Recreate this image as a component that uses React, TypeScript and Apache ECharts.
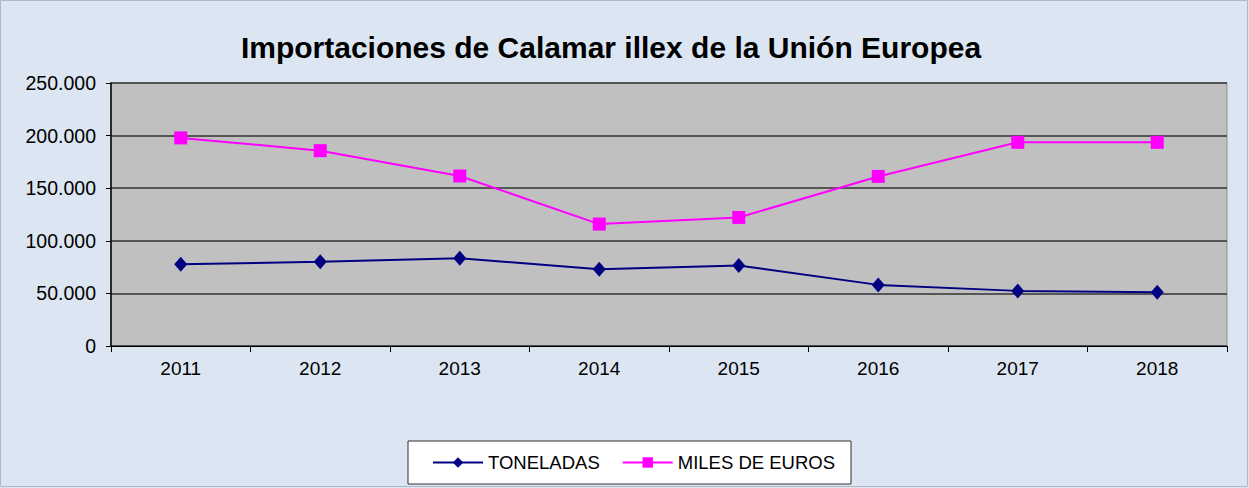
import React, { useEffect, useRef } from "react";
import * as echarts from "echarts";

const years = ["2011", "2012", "2013", "2014", "2015", "2016", "2017", "2018"];
const toneladas = [77800, 80000, 83500, 73000, 76500, 58100, 52400, 51100];
const milesEuros = [197800, 185700, 161600, 115900, 122200, 161200, 193600, 193600];
const titleText = "Importaciones de Calamar illex de la Unión Europea";

const fmt = (v: number) => (v === 0 ? "0" : v.toLocaleString("de-DE"));

export default function App() {
  const ref = useRef<HTMLDivElement>(null);
  useEffect(() => {
    if (!ref.current) return;
    const chart = echarts.init(ref.current, undefined, { renderer: "svg" });
    chart.setOption({
      animation: false,
      backgroundColor: "#dce6f2",
      textStyle: { fontFamily: "Liberation Sans, Arial, sans-serif" },
      graphic: [
        {
          type: "rect",
          shape: { x: 0.5, y: 0.5, width: 1247, height: 486 },
          style: { fill: "none", stroke: "#b0b8c4", lineWidth: 1 },
          silent: true,
        },
      ],
      title: {
        text: titleText,
        left: 606,
        textAlign: "center",
        top: 27,
        textStyle: { fontSize: 30, fontWeight: "bold", color: "#000", fontFamily: "Liberation Sans, Arial, sans-serif" },
      },
      legend: {
        left: 408,
        top: 441,
        orient: "horizontal",
        backgroundColor: "#ffffff",
        borderColor: "#303030",
        borderWidth: 1,
        padding: [12, 16, 12, 24],
        itemGap: 22,
        itemWidth: 50,
        itemHeight: 13,
        textStyle: { fontSize: 18.5, color: "#000", padding: [0, 0, 0, 0] },
        data: ["TONELADAS", "MILES DE EUROS"],
      },
      grid: { left: 111, right: 22, top: 83, height: 263, containLabel: false, show: true, backgroundColor: "#c0c0c0", borderColor: "#909090", borderWidth: 1 },
      xAxis: {
        type: "category",
        data: years,
        boundaryGap: true,
        axisLine: { show: true, lineStyle: { color: "#000", width: 1 } },
        axisTick: { show: true, length: 6, inside: false, lineStyle: { color: "#000" } },
        axisLabel: { fontSize: 19, color: "#000", margin: 13 },
        splitLine: { show: false },
      },
      yAxis: {
        type: "value",
        min: 0,
        max: 250000,
        interval: 50000,
        axisLine: { show: true, lineStyle: { color: "#000", width: 1.5 } },
        axisTick: { show: true, length: 5, lineStyle: { color: "#000" } },
        axisLabel: { fontSize: 19.5, color: "#000", margin: 15, formatter: (v: number) => fmt(v) },
        splitLine: { show: true, lineStyle: { color: "#333333", width: 1.5 } },
      },
      series: [
        {
          name: "TONELADAS",
          type: "line",
          data: toneladas,
          symbol: "diamond",
          symbolSize: [13, 15],
          lineStyle: { color: "#000080", width: 2 },
          itemStyle: { color: "#000080" },
        },
        {
          name: "MILES DE EUROS",
          type: "line",
          data: milesEuros,
          symbol: "rect",
          symbolSize: 13,
          lineStyle: { color: "#ff00ff", width: 2 },
          itemStyle: { color: "#ff00ff" },
        },
      ],
    });
    return () => chart.dispose();
  }, []);
  return <div ref={ref} style={{ position: "fixed", left: 0, top: 0, width: 1249, height: 488 }} />;
}
